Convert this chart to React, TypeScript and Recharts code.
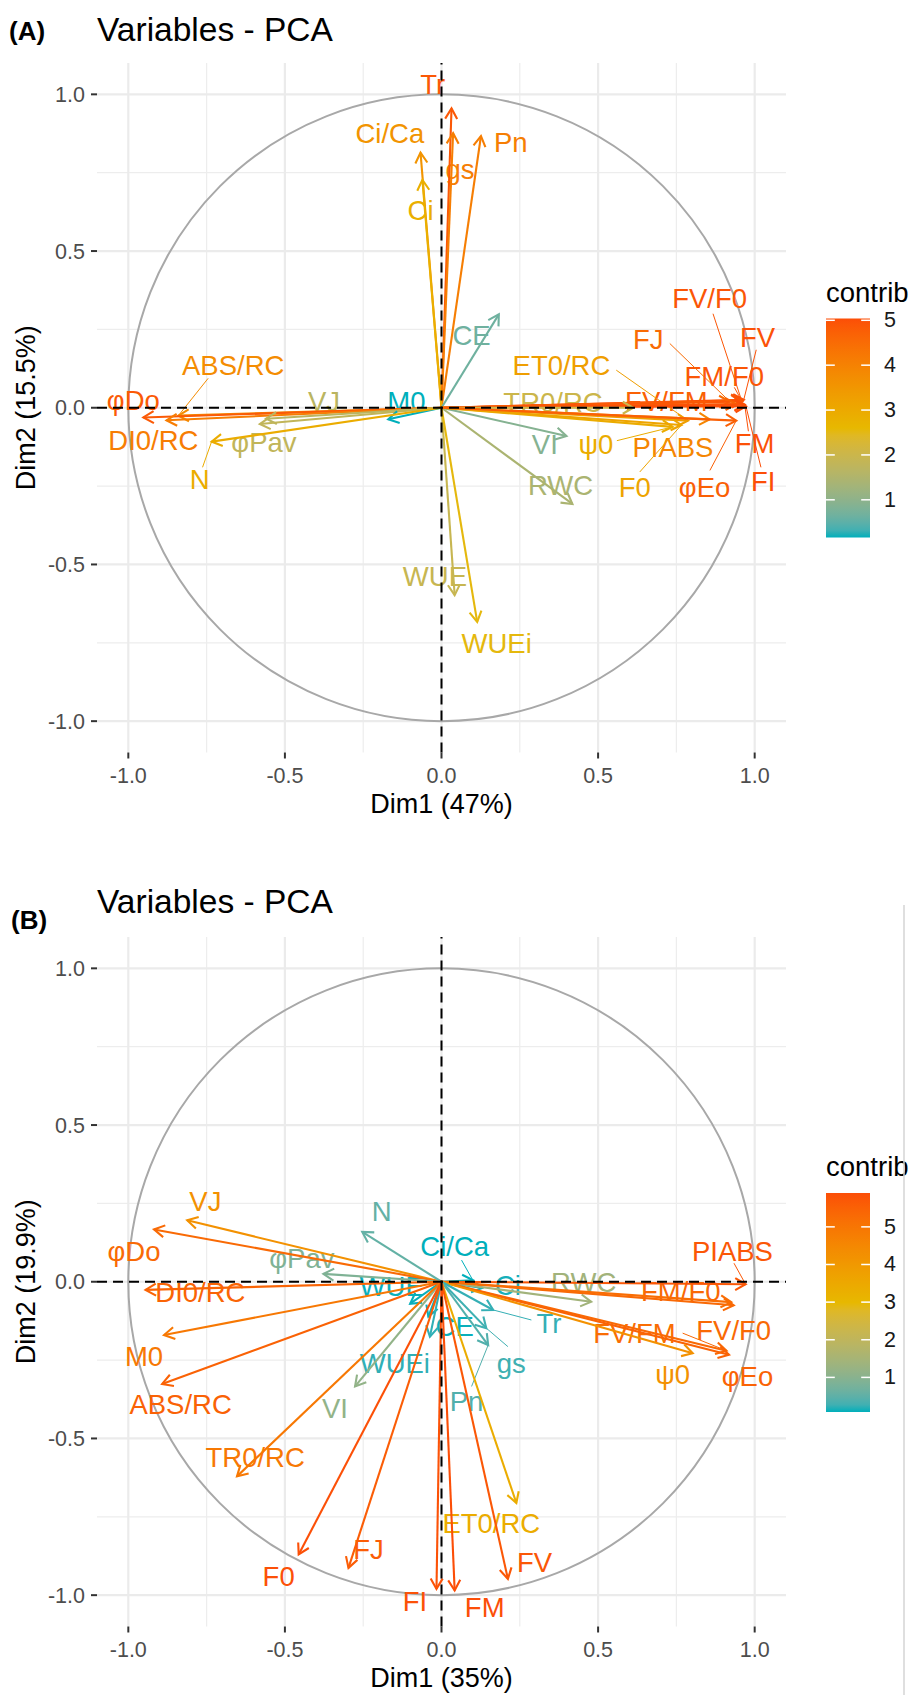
import React from 'react';
import { ComposedChart, XAxis, YAxis, ReferenceLine, ReferenceArea, Scatter } from 'recharts';

// ---------- shared ----------
const gradientCols = ['#00AFBB', '#E7B800', '#FC4E07'];
const axisTicks = [-1, -0.5, 0, 0.5, 1];
const minorGrid = [-0.75, -0.25, 0.25, 0.75];
const legendTicks = [1, 2, 3, 4, 5];

// ---------- panel A ----------
const varsA = ['Tr', 'Ci/Ca', 'gs', 'Pn', 'Ci', 'CE', 'FV/F0', 'FV', 'FJ', 'FM/F0', 'FV/FM', 'FM', 'FI', 'ET0/RC', 'TR0/RC', 'VI', 'ψ0', 'PIABS', 'RWC', 'F0', 'φEo', 'ABS/RC', 'φDo', 'DI0/RC', 'VJ', 'φPav', 'M0', 'N', 'WUE', 'WUEi'];
const dim1A = [0.032, -0.067, 0.037, 0.126, -0.061, 0.183, 0.958, 0.965, 0.920, 0.960, 0.940, 0.968, 0.972, 0.787, 0.612, 0.399, 0.738, 0.856, 0.418, 0.766, 0.941, -0.840, -0.952, -0.878, -0.560, -0.580, -0.170, -0.734, 0.042, 0.114];
const dim2A = [0.955, 0.814, 0.876, 0.867, 0.727, 0.298, 0.024, 0.025, 0.020, 0.020, 0.012, 0.010, 0.005, -0.041, 0.000, -0.090, -0.061, -0.037, -0.307, -0.055, -0.041, -0.025, -0.031, -0.040, -0.035, -0.052, -0.037, -0.108, -0.598, -0.683];
const contribA = [4.87, 3.55, 4.10, 4.09, 2.84, 0.65, 4.90, 4.97, 4.51, 4.91, 4.71, 4.99, 5.04, 3.31, 2.00, 0.89, 2.92, 3.91, 1.43, 3.14, 4.73, 3.76, 4.83, 4.12, 1.68, 1.81, 0.16, 2.93, 1.92, 2.56];
const labelXA = [-0.028, -0.165, 0.059, 0.221, -0.067, 0.096, 0.856, 1.009, 0.660, 0.903, 0.718, 1.000, 1.027, 0.383, 0.356, 0.330, 0.493, 0.739, 0.380, 0.617, 0.840, -0.665, -0.984, -0.920, -0.375, -0.567, -0.112, -0.772, -0.021, 0.176];
const labelYA = [1.030, 0.876, 0.759, 0.846, 0.630, 0.232, 0.349, 0.224, 0.217, 0.100, 0.019, -0.114, -0.236, 0.136, 0.016, -0.117, -0.117, -0.128, -0.248, -0.254, -0.256, 0.136, 0.024, -0.103, 0.019, -0.110, 0.020, -0.229, -0.539, -0.752];
const leaderNamesA = ['ABS/RC', 'N', 'ET0/RC', 'FJ', 'FV/F0', 'FV', 'FM/F0', 'FM', 'FI', 'φEo', 'F0', 'ψ0'];
const leaderXA = [-0.745, -0.763, 0.558, 0.729, 0.867, 1.005, 0.935, 0.980, 1.020, 0.857, 0.633, 0.560];
const leaderYA = [0.094, -0.190, 0.120, 0.205, 0.300, 0.185, 0.065, -0.075, -0.190, -0.200, -0.205, -0.105];

// ---------- panel B ----------
const varsB = ['VJ', 'φDo', 'φPav', 'N', 'Ci/Ca', 'DI0/RC', 'WUE', 'Ci', 'RWC', 'PIABS', 'FM/F0', 'FV/FM', 'FV/F0', 'φEo', 'ψ0', 'Tr', 'gs', 'CE', 'Pn', 'M0', 'ABS/RC', 'WUEi', 'VI', 'TR0/RC', 'ET0/RC', 'F0', 'FJ', 'FI', 'FM', 'FV'];
const dim1B = [-0.812, -0.918, -0.377, -0.253, 0.100, -0.945, -0.100, 0.130, 0.478, 0.971, 0.933, 0.925, 0.910, 0.918, 0.802, 0.165, 0.143, -0.042, 0.149, -0.886, -0.892, -0.037, -0.276, -0.653, 0.239, -0.456, -0.297, -0.016, 0.042, 0.212];
const dim2B = [0.196, 0.167, 0.025, 0.159, 0.005, -0.026, -0.070, -0.020, -0.064, -0.008, -0.075, -0.065, -0.220, -0.233, -0.228, -0.090, -0.148, -0.111, -0.202, -0.170, -0.326, -0.175, -0.334, -0.621, -0.706, -0.870, -0.913, -0.980, -0.985, -0.948];
const contribB = [4.24, 5.29, 0.87, 0.54, 0.08, 5.43, 0.09, 0.11, 1.41, 5.72, 5.32, 5.22, 5.32, 5.45, 4.22, 0.21, 0.26, 0.09, 0.39, 4.94, 5.47, 0.19, 1.14, 4.93, 3.37, 5.86, 5.59, 5.83, 5.90, 5.73];
const labelXB = [-0.754, -0.982, -0.446, -0.191, 0.042, -0.770, -0.159, 0.212, 0.454, 0.929, 0.764, 0.616, 0.933, 0.977, 0.738, 0.343, 0.223, 0.042, 0.080, -0.950, -0.833, -0.149, -0.340, -0.595, 0.159, -0.520, -0.233, -0.085, 0.138, 0.297];
const labelYB = [0.255, 0.096, 0.074, 0.223, 0.113, -0.035, -0.016, -0.011, -0.003, 0.096, -0.032, -0.164, -0.154, -0.302, -0.297, -0.133, -0.260, -0.143, -0.382, -0.239, -0.393, -0.260, -0.403, -0.562, -0.770, -0.940, -0.854, -1.019, -1.040, -0.897];
const leaderNamesB = ['Ci/Ca', 'Tr', 'gs', 'Pn', 'PIABS', 'FV/F0'];
const leaderXB = [0.064, 0.287, 0.212, 0.096, 0.934, 0.770];
const leaderYB = [0.069, -0.122, -0.207, -0.334, 0.059, -0.164];

// ---------- colour (Lab interpolation like ggplot gradientn) ----------
const FONT = '"Liberation Sans", Arial, Helvetica, sans-serif';
function hex2rgb(h: string) { const n = parseInt(h.slice(1), 16); return [(n >> 16) & 255, (n >> 8) & 255, n & 255]; }
function lin(c: number) { c /= 255; return c <= 0.04045 ? c / 12.92 : Math.pow((c + 0.055) / 1.055, 2.4); }
function delin(c: number) { c = Math.max(0, Math.min(1, c)); const v = c <= 0.0031308 ? 12.92 * c : 1.055 * Math.pow(c, 1 / 2.4) - 0.055; return Math.max(0, Math.min(255, Math.round(v * 255))); }
const Xn = 0.95047, Yn = 1, Zn = 1.08883;
function ff(t: number) { return t > 0.008856 ? Math.cbrt(t) : 7.787 * t + 16 / 116; }
function finv(t: number) { return t > 0.206893 ? t * t * t : (t - 16 / 116) / 7.787; }
function rgb2lab(rgb: number[]) {
  const R = lin(rgb[0]), G = lin(rgb[1]), B = lin(rgb[2]);
  const X = (0.4124 * R + 0.3576 * G + 0.1805 * B) / Xn;
  const Y = (0.2126 * R + 0.7152 * G + 0.0722 * B) / Yn;
  const Z = (0.0193 * R + 0.1192 * G + 0.9505 * B) / Zn;
  const fx = ff(X), fy = ff(Y), fz = ff(Z);
  return [116 * fy - 16, 500 * (fx - fy), 200 * (fy - fz)];
}
function lab2hex(lab: number[]) {
  const fy = (lab[0] + 16) / 116, fx = fy + lab[1] / 500, fz = fy - lab[2] / 200;
  const X = finv(fx) * Xn, Y = finv(fy) * Yn, Z = finv(fz) * Zn;
  const R = 3.2406 * X - 1.5372 * Y - 0.4986 * Z;
  const G = -0.9689 * X + 1.8758 * Y + 0.0415 * Z;
  const B = 0.0557 * X - 0.2040 * Y + 1.0570 * Z;
  return '#' + [R, G, B].map((c) => delin(c).toString(16).padStart(2, '0')).join('');
}
const labs = gradientCols.map((c) => rgb2lab(hex2rgb(c)));
function colorAt(t: number) {
  t = Math.max(0, Math.min(1, t));
  const seg = t <= 0.5 ? 0 : 1;
  const s = seg === 0 ? t / 0.5 : (t - 0.5) / 0.5;
  const a = labs[seg], b = labs[seg + 1];
  return lab2hex([a[0] + (b[0] - a[0]) * s, a[1] + (b[1] - a[1]) * s, a[2] + (b[2] - a[2]) * s]);
}

// ---------- shapes ----------
const makeArrow = (color: string) => (p: any) => {
  const { x1, y1, x2, y2 } = p;
  if ([x1, y1, x2, y2].some((v) => typeof v !== 'number' || isNaN(v))) return <g />;
  const a = Math.atan2(y2 - y1, x2 - x1);
  const L = 12, ang = Math.PI / 6;
  const ax = x2 - L * Math.cos(a - ang), ay = y2 - L * Math.sin(a - ang);
  const bx = x2 - L * Math.cos(a + ang), by = y2 - L * Math.sin(a + ang);
  return (
    <g>
      <line x1={x1} y1={y1} x2={x2} y2={y2} stroke={color} strokeWidth={2.1} />
      <polyline points={`${ax},${ay} ${x2},${y2} ${bx},${by}`} fill="none" stroke={color} strokeWidth={2.1} />
    </g>
  );
};

const circleShape = (p: any) => (
  <ellipse cx={p.x + p.width / 2} cy={p.y + p.height / 2} rx={Math.abs(p.width) / 2} ry={Math.abs(p.height) / 2}
    fill="none" stroke="#A8A8A8" strokeWidth={2} />
);

const LabelShape = (props: any) => {
  const { cx, cy, payload } = props;
  return (
    <text x={cx} y={cy} fill={payload.color} fontSize={27.5} fontFamily={FONT} textAnchor="middle" dominantBaseline="central">
      {payload.name}
    </text>
  );
};

type PanelProps = {
  top: number; vars: string[]; d1: number[]; d2: number[]; contrib: number[];
  lx: number[]; ly: number[]; lNames: string[]; lX: number[]; lY: number[];
  xTitle: string; yTitle: string;
};

function Panel({ top, vars, d1, d2, contrib, lx, ly, lNames, lX, lY, xTitle, yTitle }: PanelProps) {
  const min = Math.min(...contrib), max = Math.max(...contrib);
  const colors = contrib.map((v) => colorAt((v - min) / (max - min)));
  const labels = vars.map((n, i) => ({ x: lx[i], y: ly[i], name: n, color: colors[i] }));
  const tickStyle = { fontSize: 21.5, fill: '#4D4D4D', fontFamily: FONT };
  return (
    <div style={{ position: 'absolute', left: 0, top }}>
      <ComposedChart width={912} height={821} margin={{ top: 63, right: 126, bottom: 0, left: 0 }}>
        <XAxis type="number" dataKey="x" domain={[-1.1, 1.1]} ticks={axisTicks} interval={0}
          tickFormatter={(v: number) => v.toFixed(1)} height={68.5} axisLine={false}
          tickSize={6} tickMargin={9} tick={tickStyle} tickLine={{ stroke: '#333333', strokeWidth: 2 }}
          label={{
            content: (p: any) => {
              const vb = p.viewBox || { x: 97, y: 752.5, width: 689 };
              return <text x={vb.x + vb.width / 2} y={vb.y + 51} textAnchor="middle" dominantBaseline="central" fontSize={27} fontFamily={FONT} fill="#000">{xTitle}</text>;
            },
          }} />
        <YAxis type="number" dataKey="y" domain={[-1.1, 1.1]} ticks={axisTicks} interval={0}
          tickFormatter={(v: number) => v.toFixed(1)} width={97} axisLine={false}
          tickSize={6} tickMargin={6} tick={tickStyle} tickLine={{ stroke: '#333333', strokeWidth: 2 }}
          label={{
            content: (p: any) => {
              const vb = p.viewBox || { x: 0, y: 63, height: 689.5 };
              const cy = vb.y + vb.height / 2;
              return <text transform={`translate(26, ${cy}) rotate(-90)`} textAnchor="middle" dominantBaseline="central" fontSize={27} fontFamily={FONT} fill="#000">{yTitle}</text>;
            },
          }} />
        {minorGrid.map((v) => <ReferenceLine key={'mvx' + v} x={v} stroke="#EDEDED" strokeWidth={1.2} zIndex={10} />)}
        {minorGrid.map((v) => <ReferenceLine key={'mhy' + v} y={v} stroke="#EDEDED" strokeWidth={1.2} zIndex={10} />)}
        {axisTicks.map((v) => <ReferenceLine key={'Mvx' + v} x={v} stroke="#EBEBEB" strokeWidth={2.2} zIndex={11} />)}
        {axisTicks.map((v) => <ReferenceLine key={'Mhy' + v} y={v} stroke="#EBEBEB" strokeWidth={2.2} zIndex={11} />)}
        <ReferenceArea x1={-1} x2={1} y1={-1} y2={1} shape={circleShape} ifOverflow="visible" zIndex={20} />
        <Scatter data={labels} dataKey="y" shape={LabelShape} isAnimationActive={false} zIndex={300} />
        {lNames.map((n, i) => {
          const k = vars.indexOf(n);
          return (
            <ReferenceLine key={'ld' + i} segment={[{ x: lX[i], y: lY[i] }, { x: d1[k], y: d2[k] }]}
              stroke={colors[k]} strokeWidth={1} ifOverflow="visible" zIndex={310} />
          );
        })}
        {vars.map((n, i) => (
          <ReferenceLine key={'ar' + i} segment={[{ x: 0, y: 0 }, { x: d1[i], y: d2[i] }]}
            shape={makeArrow(colors[i])} ifOverflow="visible" zIndex={400} />
        ))}
        <ReferenceLine x={0} stroke="#000" strokeWidth={2} strokeDasharray="10 6" zIndex={450} />
        <ReferenceLine y={0} stroke="#000" strokeWidth={2} strokeDasharray="10 6" zIndex={450} />
      </ComposedChart>
    </div>
  );
}

function ColorBar({ top, contrib, gid, titleY }: { top: number; contrib: number[]; gid: string; titleY: number }) {
  const min = Math.min(...contrib), max = Math.max(...contrib);
  const H = 219, x0 = 826, w = 44, bottom = top + H;
  const yOf = (v: number) => bottom - ((v - min) / (max - min)) * H;
  const stops = Array.from({ length: 31 }, (_, i) => i / 30);
  return (
    <g>
      <defs>
        <linearGradient id={gid} x1="0" y1="1" x2="0" y2="0">
          {stops.map((t) => <stop key={t} offset={t} stopColor={colorAt(t)} />)}
        </linearGradient>
      </defs>
      <text x={826} y={titleY} fontSize={27.5} fontFamily={FONT} fill="#000">contrib</text>
      <rect x={x0} y={top} width={w} height={H} fill={`url(#${gid})`} />
      {legendTicks.filter((v) => v >= min && v <= max).map((v) => (
        <g key={v}>
          <line x1={x0} x2={x0 + 8.8} y1={yOf(v)} y2={yOf(v)} stroke="#fff" strokeWidth={1.5} />
          <line x1={x0 + w - 8.8} x2={x0 + w} y1={yOf(v)} y2={yOf(v)} stroke="#fff" strokeWidth={1.5} />
          <text x={884} y={yOf(v)} fontSize={21.5} fontFamily={FONT} fill="#1A1A1A" dominantBaseline="central">{v}</text>
        </g>
      ))}
    </g>
  );
}

export default function App() {
  return (
    <div style={{ position: 'absolute', left: 0, top: 0, width: 912, height: 1695, overflow: 'hidden', background: '#fff' }}>
      <Panel top={0} vars={varsA} d1={dim1A} d2={dim2A} contrib={contribA} lx={labelXA} ly={labelYA}
        lNames={leaderNamesA} lX={leaderXA} lY={leaderYA} xTitle="Dim1 (47%)" yTitle="Dim2 (15.5%)" />
      <Panel top={874} vars={varsB} d1={dim1B} d2={dim2B} contrib={contribB} lx={labelXB} ly={labelYB}
        lNames={leaderNamesB} lX={leaderXB} lY={leaderYB} xTitle="Dim1 (35%)" yTitle="Dim2 (19.9%)" />
      <svg width={912} height={1695} style={{ position: 'absolute', left: 0, top: 0, pointerEvents: 'none' }}>
        <text x={9} y={31} fontSize={26} fontWeight="bold" fontFamily={FONT} fill="#000" dominantBaseline="central">(A)</text>
        <text x={97} y={41} fontSize={33.5} fontFamily={FONT} fill="#000">Variables - PCA</text>
        <text x={11} y={920} fontSize={26} fontWeight="bold" fontFamily={FONT} fill="#000" dominantBaseline="central">(B)</text>
        <text x={97} y={913} fontSize={33.5} fontFamily={FONT} fill="#000">Variables - PCA</text>
        <ColorBar top={318.5} contrib={contribA} gid="gA" titleY={302} />
        <ColorBar top={1193} contrib={contribB} gid="gB" titleY={1176} />
        <line x1={904} x2={904} y1={905} y2={1695} stroke="#D4D4D4" strokeWidth={1.5} />
      </svg>
    </div>
  );
}
